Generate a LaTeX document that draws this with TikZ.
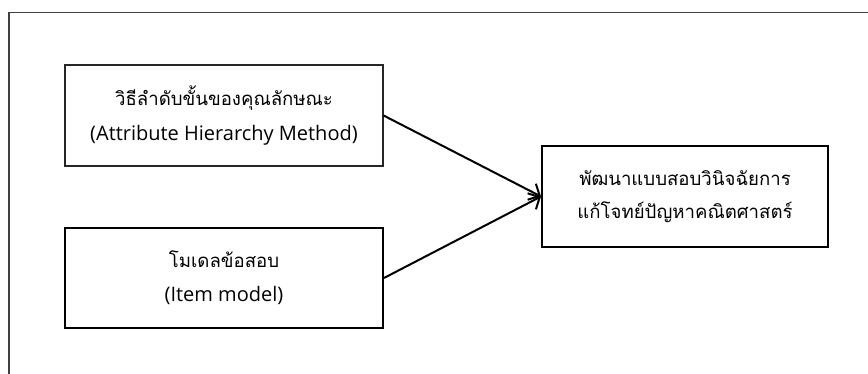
\documentclass[tikz,border=0pt]{standalone}
\usepackage{fontspec}
\setmainfont{Open Sans}
\newfontfamily\thaifont[Script=Thai,Scale=0.93]{Loma}
\usetikzlibrary{arrows.meta}
\begin{document}
\begin{tikzpicture}[x=1pt,y=-1pt,
  boxthin/.style={draw=black!85,line width=1.2pt,minimum width=318pt,minimum height=101pt,align=center,inner sep=0pt,font=\fontsize{20}{35}\selectfont},
  boxthick/.style={draw=black,line width=2pt,align=center,inner sep=0pt,font=\fontsize{20}{34}\selectfont},
  link/.style={line width=2pt,-{Straight Barb[length=9pt,width=18pt,line width=2pt]}}]
\useasboundingbox (0,0) rectangle (868,374);
\fill[white] (0,0) rectangle (868,374);
\draw[black!75,line width=1.2pt] (9,374) -- (9,12.5) -- (868,12.5);
\node[boxthin] (b1) at (224,115.5) {{\thaifont วิธีลำดับขั้นของคุณลักษณะ}\\(Attribute Hierarchy Method)};
\node[boxthick,minimum width=318pt,minimum height=100pt] (b2) at (224,278) {{\thaifont โมเดลข้อสอบ}\\(Item model)};
\node[boxthick,minimum width=286pt,minimum height=101pt,font=\fontsize{20}{33}\selectfont] (b3) at (685,196.5) {{\thaifont พัฒนาแบบสอบวินิจฉัยการ}\\{\thaifont แก้โจทย์ปัญหาคณิตศาสตร์}};
\draw[link] (b1.east) -- (b3.west);
\draw[link] (b2.east) -- (b3.west);
\end{tikzpicture}
\end{document}
